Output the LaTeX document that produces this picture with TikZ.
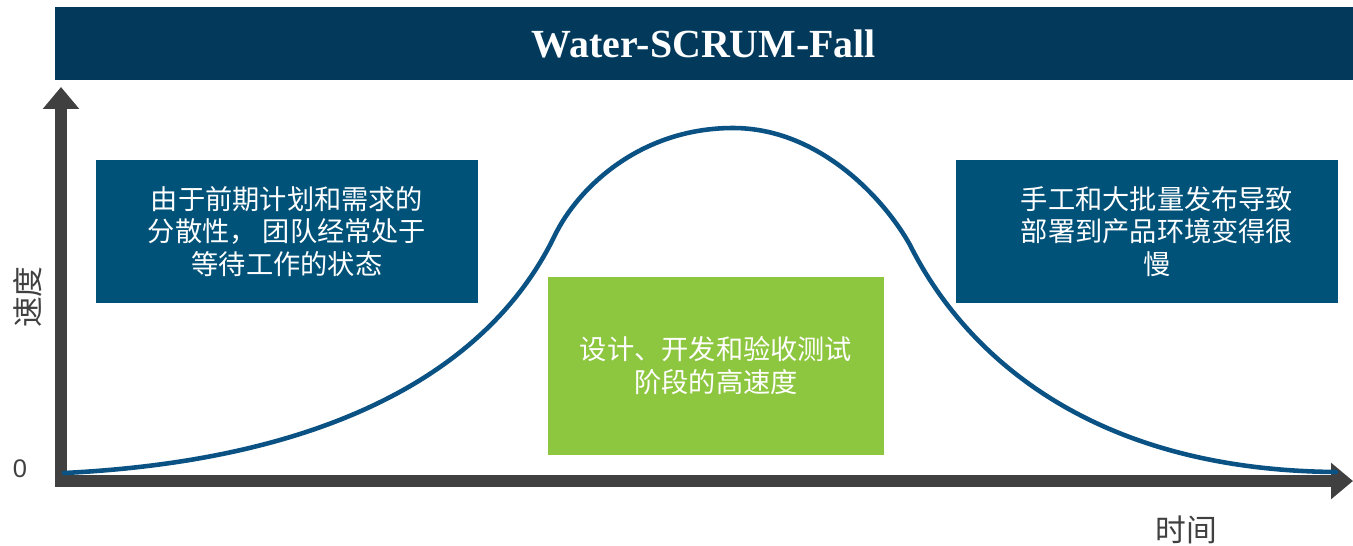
\documentclass[tikz,border=0pt]{standalone}
\usepackage{fontspec}
\setmainfont{Liberation Serif}
\newfontfamily\cjkfont{Noto Sans CJK SC}
\newfontfamily\labelfont{Liberation Sans}
\usetikzlibrary{arrows.meta, positioning}

\definecolor{titleblue}{RGB}{3,58,92}
\definecolor{boxblue}{RGB}{1,82,121}
\definecolor{boxgreen}{RGB}{141,198,63}
\definecolor{axisgray}{RGB}{64,64,64}
\definecolor{curveblue}{RGB}{10,82,132}

\begin{document}
\begin{tikzpicture} [x=0.02cm, y=-0.02cm,
		% define styles
		titlenodestyle/.style={
			% The shape:
			rectangle,
			% The size:
			minimum width=25.96cm,
			minimum height=1.46cm,
			inner sep=0pt,
			% The filling:
			fill=titleblue,
			% Font
			text=white,
			font=\fontsize{22.7}{26}\selectfont\bfseries
		},
		bluenodestyle/.style={
			% The shape:
			rectangle,
			% The size:
			minimum width=7.64cm,
			minimum height=2.86cm,
			inner sep=0pt,
			% The filling:
			fill=boxblue,
			% Font
			text=white,
			align=center,
			font=\cjkfont\fontsize{15.5}{18.7}\selectfont
		},
		greennodestyle/.style={
			bluenodestyle,
			% The size:
			minimum width=6.72cm,
			minimum height=3.56cm,
			% The filling:
			fill=boxgreen
		},
		axislabel/.style={
			text=axisgray,
			inner sep=0pt,
			font=\cjkfont\fontsize{17.5}{20}\selectfont
		},
		axis/.style={
			% Thickness
			line width=6.8pt,
			% Color
			axisgray,
			-{Triangle[width=20pt, length=12.5pt]}
		},
		curvestyle/.style={
			% Thickness
			line width=2.6pt,
			% Color
			curveblue,
			line cap=round
		}]
		% end of style definition

		\useasboundingbox (0,0) rectangle (1353,545);

		% axes
		\coordinate (iYStart) at (61,487);
		\coordinate (iYEnd) at (61,87);
		\coordinate (iXStart) at (55,481);
		\coordinate (iXEnd) at (1353,481);
		\draw [axis] (iYStart) -- (iYEnd);
		\draw [axis] (iXStart) -- (iXEnd);

		% velocity curve
		\draw [curvestyle] (64,473)
			.. controls (330,460) and (490,370) .. (555,235)
			.. controls (578,188) and (640,128) .. (733,128)
			.. controls (820,128) and (885,200) .. (910,245)
			.. controls (960,345) and (1080,470) .. (1336,472);

		% draw nodes
		\node (iTitle) [titlenodestyle] at (704,43.5) {Water-SCRUM-Fall};

		\node (iWaiting) [bluenodestyle] at (287,231.5) {由于前期计划和需求的\\分散性， 团队经常处于\\等待工作的状态};
		\node (iHighSpeed) [greennodestyle] at (716,366) {设计、开发和验收测试\\阶段的高速度};
		\node (iRelease) [bluenodestyle] at (1147,231.5) {\hspace*{0.4cm}手工和大批量发布导致\\\hspace*{0.4cm}部署到产品环境变得很\\\hspace*{0.4cm}慢};

		% axis labels
		\node (iSpeed) [axislabel, rotate=90] at (28,297) {速度};
		\node (iTime) [axislabel] at (1186,530) {时间};
		\node (iZero) [axislabel, font=\labelfont\fontsize{14.5}{16}\selectfont] at (20,469) {0};
	\end{tikzpicture}
\end{document}
